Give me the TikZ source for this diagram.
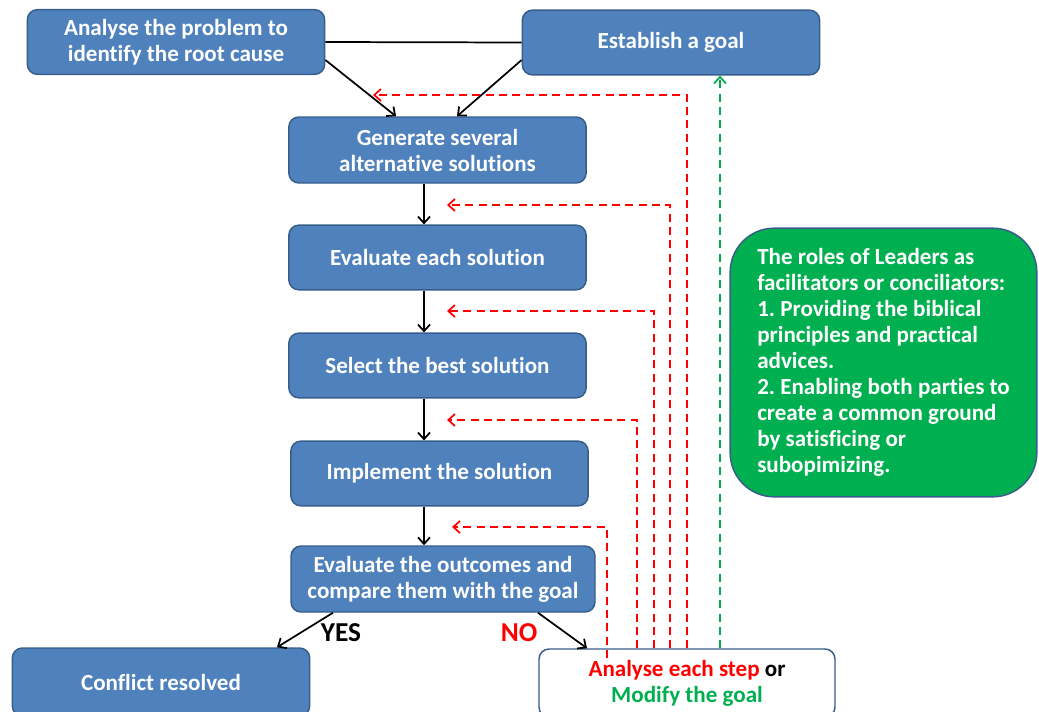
\documentclass[tikz,border=0pt]{standalone}
\usepackage{fontspec}
\setmainfont{Carlito}[Ligatures=NoCommon]
\usetikzlibrary{arrows.meta,calc}
\definecolor{boxblue}{HTML}{4F81BD}
\definecolor{edgeblue}{HTML}{385D8A}
\definecolor{leadgreen}{HTML}{00B050}
\definecolor{dashred}{HTML}{FF0000}
\frenchspacing
\tikzset{
  boxfont/.style={font=\fontsize{17.3}{19.5}\selectfont\bfseries},
  stepbox/.style={draw=edgeblue, line width=1.1pt, fill=boxblue, rounded corners=7.5pt,
    text=white, boxfont, align=center,
    inner sep=0pt, minimum width=223pt, minimum height=48.5pt},
  flow/.style={draw=black, line width=1.3pt, -{Straight Barb[length=5pt,width=9pt]}},
  redback/.style={draw=dashred, line width=1.3pt, dash pattern=on 6pt off 4pt,
    -{Straight Barb[length=5pt,width=9pt]}},
  greenback/.style={draw=leadgreen, line width=1.3pt, dash pattern=on 6pt off 4pt,
    -{Straight Barb[length=5pt,width=9pt]}},
  answer/.style={font=\fontsize{20.5}{22}\selectfont\bfseries}
}
\begin{document}
\begin{tikzpicture}[x=0.75pt,y=-0.75pt]
  \useasboundingbox (0,0) rectangle (1039,711);
  \clip (0,0) rectangle (1039,711);

  % process steps
  \node[stepbox] (A) at (176,42) {Analyse the problem to\\identify the root cause};
  \node[stepbox] (B) at (671,42.5) {Establish a goal};
  \node[stepbox, minimum height=49.5pt] (C) at (437.5,150) {Generate several\\alternative solutions};
  \node[stepbox] (D) at (437.5,257.5) {Evaluate each solution};
  \node[stepbox] (E) at (437.5,365.5) {Select the best solution};
  \node[stepbox] (F) at (439.5,473.5) {Implement the solution};
  \node[stepbox, minimum width=228pt, minimum height=49.5pt] (G) at (443,579) {Evaluate the outcomes and\\compare them with the goal};
  \node[stepbox, minimum height=51pt] (H) at (161,682) {Conflict resolved};
  \node[stepbox, fill=white, text=black, minimum width=222pt, minimum height=51pt] (I) at (687,683)
    {\textcolor{dashred}{Analyse each step} or\\\textcolor{leadgreen}{Modify the goal}};

  % leaders' role note
  \node[draw=edgeblue, line width=1.1pt, fill=leadgreen, rounded corners=33pt,
    text=white, boxfont, align=left,
    inner sep=0pt, minimum width=230pt, minimum height=201.5pt] (N) at (883.5,362.5)
    {The roles of Leaders as\\facilitators or conciliators:\\1. Providing the biblical\\principles and practical\\advices.\\2. Enabling both parties to\\create a common ground\\by satisficing or\\subopimizing.};

  % main flow
  \draw[draw=black, line width=1.3pt] (A.east) -- (B.west);
  \draw[flow] ($(A.east)+(0,18)$) -- ($(C.north)+(-41.5,0)$);
  \draw[flow] ($(B.west)+(0,17.5)$) -- ($(C.north)+(19.5,0)$);
  \coordinate (spine) at (424,0);
  \draw[flow] (C.south -| spine) -- (D.north -| spine);
  \draw[flow] (D.south -| spine) -- (E.north -| spine);
  \draw[flow] (E.south -| spine) -- (F.north -| spine);
  \draw[flow] (F.south -| spine) -- (G.north -| spine);
  \draw[flow] ($(G.south)+(-110,0)$) -- ($(H.north)+(116,0)$);
  \draw[flow] ($(G.south)+(95,0)$) -- ($(I.north)+(-100,0)$);
  \node[answer] (yes) at (341,633) {YES};
  \node[answer, text=dashred] (no) at (519,633) {NO};

  % feedback loops back to each step
  \coordinate (r1) at (687,95);   \coordinate (t1) at (373,95);
  \coordinate (r2) at (670,205);  \coordinate (t2) at (447,205);
  \coordinate (r3) at (654,311);  \coordinate (t3) at (447,311);
  \coordinate (r4) at (637,420);  \coordinate (t4) at (447,420);
  \coordinate (r5) at (607,527);  \coordinate (t5) at (452,527);
  \coordinate (r5s) at (607,658);
  \draw[redback] (r1 |- I.north) -- (r1) -- (t1);
  \draw[redback] (r2 |- I.north) -- (r2) -- (t2);
  \draw[redback] (r3 |- I.north) -- (r3) -- (t3);
  \draw[redback] (r4 |- I.north) -- (r4) -- (t4);
  \draw[redback] (r5s) -- (r5) -- (t5);
  \coordinate (g) at (720,0);
  \draw[greenback] (I.north -| g) -- (B.south -| g);
\end{tikzpicture}
\end{document}
